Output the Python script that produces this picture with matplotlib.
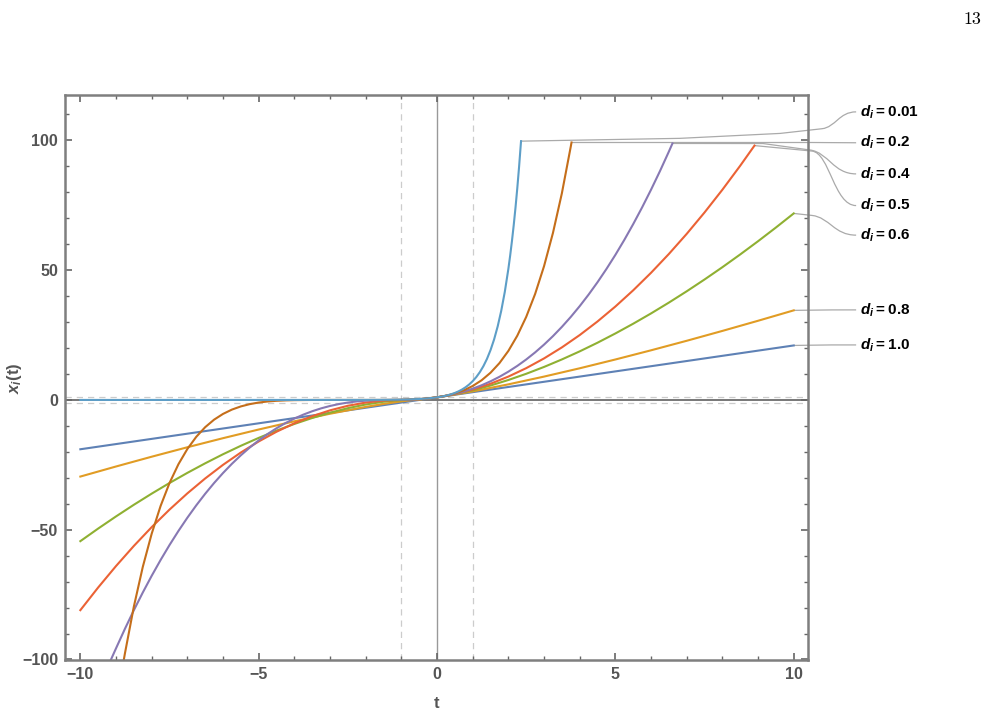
import matplotlib
matplotlib.use("Agg")
import matplotlib.pyplot as plt
from matplotlib.path import Path
from matplotlib.patches import PathPatch
from matplotlib.ticker import MultipleLocator

plt.rcParams['font.family'] = ['Liberation Sans', 'DejaVu Sans']
plt.rcParams['font.weight'] = 'bold'
plt.rcParams['mathtext.fontset'] = 'custom'
plt.rcParams['mathtext.it'] = 'Liberation Sans:italic:bold'
plt.rcParams['mathtext.rm'] = 'Liberation Sans:bold'

# values, one series per d_i
t_d1 = [-10, 0, 10]
x_d1 = [-19, 1, 21]

t_d08 = [-10, -9, -8, -7, -6, -5, -4, -3, -2, -1.5, -1, -0.75, -0.5, 0, 0.5, 1, 2, 3, 4, 5, 6,
         7, 8, 9, 10]
x_d08 = [-29.52, -25.64, -21.87, -18.23, -14.73, -11.39, -8.23, -5.31, -2.68, -1.52, -0.53,
         -0.13, 0.13, 1, 2.09, 3.30, 6.01, 9.00, 12.20, 15.59, 19.13, 22.80, 26.60, 30.51, 34.52]

t_d06 = [-10, -9.5, -9, -8.5, -8, -7.5, -7, -6.5, -6, -5.5, -5, -4.5, -4, -3.5, -3, -2.5, -2,
         -1.5, -1, -0.5, 0, 0.5, 1, 1.5, 2, 2.5, 3, 3.5, 4, 4.5, 5, 5.5, 6, 6.5, 7, 7.5, 8, 8.5,
         9, 9.5, 10]
x_d06 = [-54.41, -49.55, -44.88, -40.39, -36.10, -32.00, -28.10, -24.41, -20.92, -17.66, -14.62,
         -11.81, -9.25, -6.95, -4.92, -3.17, -1.75, -0.69, -0.07, 0.22, 1, 2.19, 3.72, 5.56,
         7.69, 10.08, 12.72, 15.61, 18.72, 22.06, 25.62, 29.38, 33.34, 37.51, 41.87, 46.42,
         51.15, 56.07, 61.16, 66.43, 71.87]

t_d05 = [-10, -9.5, -9, -8.5, -8, -7.5, -7, -6.5, -6, -5.5, -5, -4.5, -4, -3.5, -3, -2.5, -2,
         -1.5, -1, -0.5, 0, 0.5, 1, 1.5, 2, 2.5, 3, 3.5, 4, 4.5, 5, 5.5, 6, 6.5, 7, 7.5, 8, 8.5,
         8.9]
x_d05 = [-81, -72.25, -64, -56.25, -49, -42.25, -36, -30.25, -25, -20.25, -16, -12.25, -9,
         -6.25, -4, -2.25, -1, -0.25, 0, 0.25, 1, 2.25, 4, 6.25, 9, 12.25, 16, 20.25, 25, 30.25,
         36, 42.25, 49, 56.25, 64, 72.25, 81, 90.25, 98.01]

t_d04 = [-9.14, -9, -8.75, -8.5, -8.25, -8, -7.75, -7.5, -7.25, -7, -6.75, -6.5, -6.25, -6,
         -5.75, -5.5, -5.25, -5, -4.75, -4.5, -4.25, -4, -3.75, -3.5, -3.25, -3, -2.75, -2.5,
         -2.25, -2, -1.75, -1.5, -1.25, -1, -0.75, -0.5, -0.25, 0, 0.25, 0.5, 0.75, 1, 1.25,
         1.5, 1.75, 2, 2.25, 2.5, 2.75, 3, 3.25, 3.5, 3.75, 4, 4.25, 4.5, 4.75, 5, 5.25, 5.5,
         5.75, 6, 6.25, 6.5, 6.6]
x_d04 = [-100, -95.71, -88.18, -81.02, -74.21, -67.76, -61.66, -55.90, -50.48, -45.38, -40.61,
         -36.15, -32, -28.15, -24.59, -21.32, -18.32, -15.59, -13.12, -10.90, -8.92, -7.18,
         -5.66, -4.35, -3.24, -2.32, -1.58, -1, -0.57, -0.28, -0.10, -0.02, 0, 0.02, 0.10, 0.28,
         0.57, 1, 1.58, 2.32, 3.24, 4.35, 5.66, 7.18, 8.92, 10.90, 13.12, 15.59, 18.32, 21.32,
         24.59, 28.15, 32, 36.15, 40.61, 45.38, 50.48, 55.90, 61.66, 67.76, 74.21, 81.02, 88.18,
         95.71, 98.83]

t_d02 = [-8.78, -8.75, -8.5, -8.25, -8, -7.75, -7.5, -7.25, -7, -6.75, -6.5, -6.25, -6, -5.75,
         -5.5, -5.25, -5, -4.75, -4.5, -4.25, -4, -3.5, -3, -2.5, -2, -1.5, -1, -0.75, -0.5,
         -0.25, 0, 0.25, 0.5, 0.75, 1, 1.25, 1.5, 1.75, 2, 2.25, 2.5, 2.75, 3, 3.25, 3.5, 3.75,
         3.77]
x_d02 = [-100, -97.66, -79.63, -64.36, -51.54, -40.84, -32, -24.76, -18.90, -14.20, -10.49,
         -7.59, -5.38, -3.71, -2.49, -1.61, -1, -0.59, -0.33, -0.17, -0.08, -0.01, 0, 0, 0,
         0.01, 0.08, 0.17, 0.33, 0.59, 1, 1.61, 2.49, 3.71, 5.38, 7.59, 10.49, 14.20, 18.90,
         24.76, 32, 40.84, 51.54, 64.36, 79.63, 97.66, 99.2]

t_d001 = [-10, -3, -2, -1.5, -1.25, -1, -0.75, -0.5, -0.25, 0, 0.1, 0.2, 0.3, 0.4, 0.5, 0.6,
          0.7, 0.8, 0.9, 1.0, 1.1, 1.2, 1.3, 1.4, 1.5, 1.6, 1.7, 1.8, 1.9, 2.0, 2.05, 2.1, 2.15,
          2.2, 2.25, 2.3, 2.355]
x_d001 = [0.0, 0.002, 0.017, 0.048, 0.080, 0.133, 0.221, 0.366, 0.606, 1, 1.221, 1.491, 1.819,
          2.218, 2.705, 3.297, 4.016, 4.891, 5.954, 7.245, 8.812, 10.716, 13.025, 15.823, 19.22,
          23.33, 28.32, 34.35, 41.66, 50.50, 55.60, 61.20, 67.36, 74.14, 81.59, 89.79, 99.72]

labels = ["1.0", "0.8", "0.6", "0.5", "0.4", "0.2", "0.01"]
label_y = [21.2, 34.7, 63.5, 74.9, 87.1, 99.1, 111.0]
colors = ["#5E81B5", "#E19C24", "#8FB032", "#EB6235", "#8778B3", "#C56E1A", "#5D9EC7"]
series = [(t_d1, x_d1), (t_d08, x_d08), (t_d06, x_d06), (t_d05, x_d05),
          (t_d04, x_d04), (t_d02, x_d02), (t_d001, x_d001)]

# knees of the callout leaders (straight part), the last bit bends into the label
knees = [
    [(10.5, 21.1)],
    [(10.5, 34.6)],
    [(10.51, 71.1)],
    [(10.51, 95.9)],
    [(9.14, 98.8), (10.46, 96.3)],
    [(10.5, 99.2)],
    [(6.81, 100.8), (9.62, 102.7), (10.79, 104.5)],
]
LEAD_X = 11.75
TEXT_X = 11.85
GRAY = "#7f7f7f"


def leader(ax, pts, end):
    (px, py), (kx, ky) = pts[-2], pts[-1]
    ex, ey = end
    s = 0.4 * (ex - kx) / (kx - px)
    c1 = (kx + (kx - px) * s, ky + (ky - py) * s)
    c2 = (ex - 0.5 * (ex - kx), ey)
    verts = list(pts) + [c1, c2, end]
    codes = [Path.MOVETO] + [Path.LINETO] * (len(pts) - 1) + [Path.CURVE4] * 3
    ax.add_patch(PathPatch(Path(verts, codes), fill=False, ec="#aaaaaa", lw=0.9,
                           clip_on=False, zorder=1))


fig = plt.figure(figsize=(9.88, 7.17), dpi=100)
ax = fig.add_axes([0.0658, 0.0795, 0.752, 0.788])

ax.axvline(0, color="#999999", lw=1.0, zorder=1)
ax.axhline(0, color="#777777", lw=1.4, zorder=1)
for v in (-1, 1):
    ax.axvline(v, color="#cccccc", lw=0.9, ls=(0, (5, 4)), zorder=0.5)
    ax.axhline(v, color="#cccccc", lw=0.9, ls=(0, (5, 4)), zorder=0.5)

for (t, x), c in zip(series, colors):
    ax.plot(t, x, color=c, lw=1.5, zorder=2)

for (t, x), lab, ly, kn in zip(series, labels, label_y, knees):
    leader(ax, [(t[-1], x[-1])] + kn, (LEAD_X, ly))
    ax.text(TEXT_X, ly, r"$d_i$" + "\u2009=\u2009" + lab, ha="left", va="center",
            fontsize=11, color="black", clip_on=False)

ax.set_xlim(-10.43, 10.4)
ax.set_ylim(-100.2, 117.5)
ax.xaxis.set_major_locator(MultipleLocator(5))
ax.xaxis.set_minor_locator(MultipleLocator(1))
ax.yaxis.set_major_locator(MultipleLocator(50))
ax.yaxis.set_minor_locator(MultipleLocator(10))
ax.tick_params(which="both", direction="in", top=True, right=True, color="#666666",
               labelcolor="#555555", labelsize=11.5)
ax.tick_params(which="major", length=5, width=1.2, pad=5)
ax.tick_params(which="minor", length=3, width=1.0)
for sp in ax.spines.values():
    sp.set_color(GRAY)
    sp.set_linewidth(1.8)

fig.text(437 / 988, 1 - 704 / 717, "t", ha="center", va="center", fontsize=12, color="#555555")
fig.text(15 / 988, 1 - 378 / 717, r"$x_i$(t)", ha="center", va="center", rotation=90,
         fontsize=12, color="#555555")
fig.text(972 / 988, 1 - 19 / 717, "13", ha="center", va="center", fontsize=13,
         family="cmr10", weight="normal")

fig.savefig("out.png", dpi=100)
